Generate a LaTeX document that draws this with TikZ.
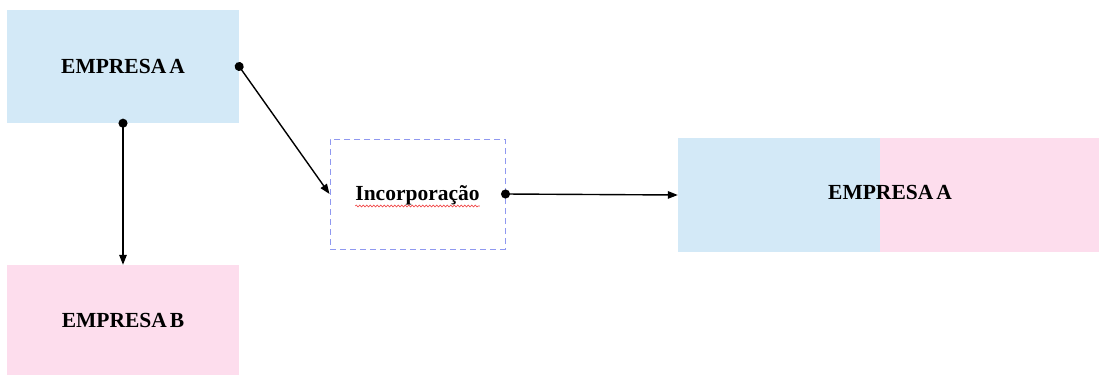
\documentclass[tikz,border=0pt]{standalone}
\usepackage{fontspec}
\setmainfont[WordSpace=0.55]{Liberation Serif}
\usetikzlibrary{arrows.meta,decorations.pathmorphing}
\definecolor{pale blue}{HTML}{D3E9F7}
\definecolor{pale pink}{HTML}{FDDDED}
\definecolor{dash lilac}{HTML}{8F98F0}
\definecolor{spell red}{HTML}{F04040}
\begin{document}
\begin{tikzpicture}[x=1pt,y=-1pt,
  company/.style={rectangle, inner sep=0pt, font=\fontsize{21.5}{25}\selectfont\bfseries},
  link/.style={line width=1.4pt, shorten <=-4.5pt,
    {Circle[length=9pt]}-{Triangle[length=10pt,width=7.5pt]}}]
  \useasboundingbox[fill=white] (0,0) rectangle (1099,375);

  % companies before the merger
  \node[company, fill=pale blue, minimum width=232pt, minimum height=113pt] (a) at (123,66.5) {EMPRESA A};
  \node[company, fill=pale pink, minimum width=232pt, minimum height=110pt] (b) at (123,320) {EMPRESA B};

  % the operation
  \node[rectangle, draw=dash lilac, line width=1pt, dash pattern=on 6pt off 4pt,
        minimum width=175pt, minimum height=110pt] (inc) at (417.5,194) {};
  \node[company, anchor=base] (inclabel) at (417.5,200) {Incorporação};
  \draw[spell red, line width=0.6pt, decorate,
        decoration={snake, amplitude=1pt, segment length=3.5pt}]
    ([yshift=-6pt]inclabel.base west) -- ([yshift=-6pt]inclabel.base east);

  % resulting company: both colours side by side
  \node[rectangle, inner sep=0pt, fill=pale blue, minimum width=202pt, minimum height=114pt] (resa) at (779,195) {};
  \node[rectangle, inner sep=0pt, fill=pale pink, minimum width=219pt, minimum height=114pt] (resb) at (989.5,195) {};
  \node[company] (restext) at (890,192) {EMPRESA A};

  \draw[link] (a.east) -- (inc.west);
  \draw[link] (a.south) -- (b.north);
  \draw[link] (inc.east) -- (resa.west);
\end{tikzpicture}
\end{document}
